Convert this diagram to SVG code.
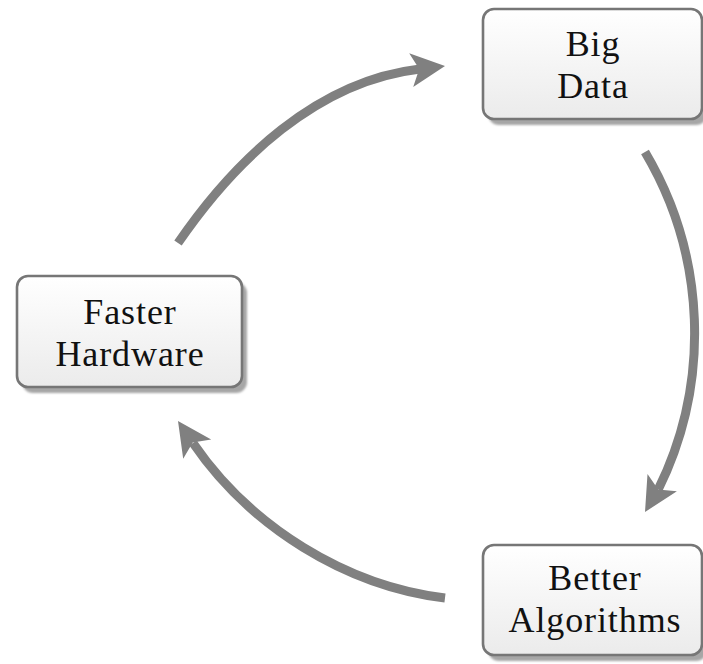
<svg xmlns="http://www.w3.org/2000/svg" width="703" height="664" viewBox="0 0 703 664">
  <defs>
    <linearGradient id="boxFill" x1="0" y1="0" x2="0" y2="1">
      <stop offset="0" stop-color="#ffffff"/>
      <stop offset="1" stop-color="#ebebeb"/>
    </linearGradient>
    <filter id="soft" x="-10%" y="-10%" width="120%" height="120%">
      <feGaussianBlur stdDeviation="1.2"/>
    </filter>
  </defs>
  <style>
    .shadow { fill: #a6a6a6; filter: url(#soft); }
    .box { fill: url(#boxFill); stroke: #767676; stroke-width: 2.6; }
    .label { font-family: "Liberation Serif", "Times New Roman", serif; font-size: 36px; letter-spacing: 0.9px; fill: #111111; text-anchor: middle; }
    .shaft { fill: none; stroke: #808080; stroke-width: 9; stroke-linecap: butt; }
    .head { fill: #808080; stroke: none; }
  </style>

  <!-- connectors: three bent arrows forming the cycle -->
  <g id="connectors">
    <!-- Faster Hardware -> Big Data -->
    <path class="shaft" d="M178,243 C234.5,160.5 316.7,81 420,69"/>
    <polygon class="head" points="445,66 409.2,53.2 419.2,69.1 413.2,87"/>
    <!-- Big Data -> Better Algorithms -->
    <path class="shaft" d="M645,152 A355,355 0 0 1 658.2,489.6"/>
    <polygon class="head" points="645,512 676.9,491.3 658.2,489.6 647.5,474.1"/>
    <!-- Better Algorithms -> Faster Hardware -->
    <path class="shaft" d="M445,598 C345.7,586 250.3,526.6 193,443"/>
    <polygon class="head" points="178,421 211.2,439.5 192.7,442.5 183.2,458.7"/>
  </g>

  <g id="big-data">
    <rect class="shadow" x="488" y="15" width="219" height="110" rx="11"/>
    <rect class="box" x="483" y="9" width="219" height="110" rx="11"/>
    <text class="label" x="593" y="56">Big</text>
    <text class="label" x="593" y="98">Data</text>
  </g>

  <g id="faster-hardware">
    <rect class="shadow" x="22" y="282" width="225" height="111" rx="11"/>
    <rect class="box" x="17" y="276" width="225" height="111" rx="11"/>
    <text class="label" x="130" y="324">Faster</text>
    <text class="label" x="130" y="366">Hardware</text>
  </g>

  <g id="better-algorithms">
    <rect class="shadow" x="488" y="551" width="219" height="110" rx="11"/>
    <rect class="box" x="483" y="545" width="219" height="110" rx="11"/>
    <text class="label" x="595" y="590">Better</text>
    <text class="label" x="595" y="632">Algorithms</text>
  </g>
</svg>
